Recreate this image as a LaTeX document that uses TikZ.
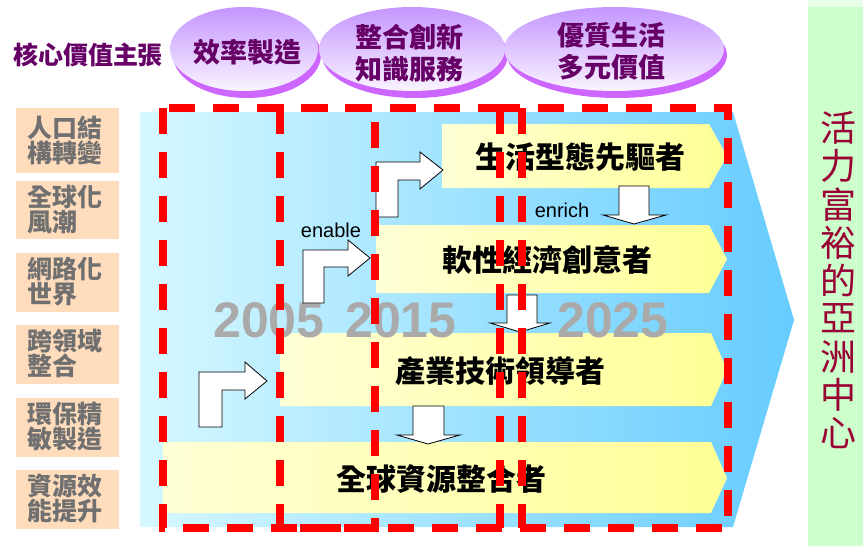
\documentclass[tikz,border=0pt]{standalone}
\usepackage{fontspec}
\setmainfont{Liberation Sans}
\newfontfamily\cjk{Noto Sans CJK TC}
\definecolor{purp}{RGB}{102,0,102}
\definecolor{ellTop}{RGB}{196,150,255}
\definecolor{ellBot}{RGB}{250,244,255}
\definecolor{ellShadow}{RGB}{204,102,255}
\definecolor{peach}{RGB}{255,220,188}
\definecolor{boxgray}{RGB}{112,112,112}
\definecolor{bgL}{RGB}{214,248,255}
\definecolor{bgR}{RGB}{102,204,255}
\definecolor{yelL}{RGB}{255,255,214}
\definecolor{yelR}{RGB}{255,255,150}
\definecolor{yeargray}{RGB}{170,170,170}
\definecolor{greenpanel}{RGB}{204,255,204}
\definecolor{greentop}{RGB}{232,255,232}
\definecolor{darkred}{RGB}{153,0,51}
\tikzset{
  fs/.style={font=\fontsize{#1}{#1}\selectfont},
  ellshape/.style={top color=ellTop, bottom color=ellBot, draw=none},
  ellshadow/.style={fill=ellShadow, draw=none},
  elltext/.style={text=purp, font=\cjk\bfseries\fontsize{27}{32}\selectfont, align=center, inner sep=0pt},
  sidebox/.style={fill=peach, draw=none},
  sidetext/.style={text=boxgray, font=\cjk\bfseries\fontsize{25}{23.5}\selectfont, align=left, anchor=north west, inner sep=0pt},
  banner/.style={left color=yelL, right color=yelR, draw=none},
  bannertext/.style={font=\cjk\bfseries\fontsize{30}{30}\selectfont, text=black, inner sep=0pt},
  blockarrow/.style={fill=white, draw=black, line width=0.8pt, line join=miter},
  yeartext/.style={text=yeargray, font=\bfseries\fontsize{50}{50}\selectfont, inner sep=0pt},
  smalltext/.style={font=\fontsize{20}{20}\selectfont, text=black, inner sep=0pt},
  reddash/.style={draw=red, line width=8pt, dash pattern=on 26pt off 18pt},
  vtext/.style={text=darkred, font=\cjk\fontsize{36}{36}\selectfont, inner sep=0pt}
}
\begin{document}
\begin{tikzpicture}[x=1pt,y=-1pt]
\useasboundingbox (0,0) rectangle (863,546);

% ---- background big arrow
\path[left color=bgL, right color=bgR] (140,112) -- (733,112) -- (794,320) -- (733,527) -- (140,527) -- cycle;

% ---- header
\node[text=purp, font=\cjk\bfseries\fontsize{25}{25}\selectfont, inner sep=0pt] (core) at (88,55) {核心價值主張};

\fill[ellshadow] (247,55) ellipse [x radius=74, y radius=43];
\path[ellshape] (244,49) ellipse [x radius=74, y radius=42];
\node[elltext] (e1) at (247,52) {效率製造};

\fill[ellshadow] (415,55) ellipse [x radius=93, y radius=43];
\path[ellshape] (412,49) ellipse [x radius=93, y radius=42];
\node[elltext] (e2) at (409,53) {整合創新\\知識服務};

\fill[ellshadow] (617,55) ellipse [x radius=110, y radius=43];
\path[ellshape] (614,49) ellipse [x radius=110, y radius=42];
\node[elltext] (e3) at (611,51) {優質生活\\多元價值};

% ---- left side boxes
\fill[sidebox] (16,108) rectangle (119,173);
\node[sidetext] (s1) at (27,116) {人口結\\構轉變};
\fill[sidebox] (16,181) rectangle (119,239);
\node[sidetext] (s2) at (27,185) {全球化\\風潮};
\fill[sidebox] (16,253) rectangle (119,312);
\node[sidetext] (s3) at (27,257) {網路化\\世界};
\fill[sidebox] (16,325) rectangle (119,384);
\node[sidetext] (s4) at (27,329) {跨領域\\整合};
\fill[sidebox] (16,398) rectangle (119,457);
\node[sidetext] (s5) at (27,402) {環保精\\敏製造};
\fill[sidebox] (16,470) rectangle (119,529);
\node[sidetext] (s6) at (27,474) {資源效\\能提升};

% ---- banners
\path[banner] (442,124) -- (709,124) -- (727,156) -- (709,188) -- (442,188) -- cycle;
\node[bannertext] (b1) at (580,157) {生活型態先驅者};
\path[banner] (376,225) -- (709,225) -- (727,259) -- (709,293) -- (376,293) -- cycle;
\node[bannertext] (b2) at (547,260) {軟性經濟創意者};
\path[banner] (280,333) -- (711,333) -- (727,370) -- (711,406) -- (280,406) -- cycle;
\node[bannertext] (b3) at (500,371) {產業技術領導者};
\path[banner] (163,442) -- (711,442) -- (727,478) -- (711,513) -- (163,513) -- cycle;
\node[bannertext] (b4) at (441,479) {全球資源整合者};

% ---- year labels
\node[yeartext] (y1) at (269,320) {2005};
\node[yeartext] (y2) at (401,320) {2015};
\node[yeartext] (y3) at (613,320) {2025};

% ---- bent arrows
\draw[blockarrow] (199,427) -- (199,372) -- (245,372) -- (245,362) -- (267,381) -- (245,399) -- (245,390) -- (222,390) -- (222,427) -- cycle;
\draw[blockarrow] (303,303) -- (303,250) -- (348,250) -- (348,240) -- (370,258) -- (348,276) -- (348,267) -- (324,267) -- (324,303) -- cycle;
\draw[blockarrow] (376,217) -- (376,162) -- (420,162) -- (420,152) -- (443,170) -- (420,189) -- (420,180) -- (398,180) -- (398,217) -- cycle;

% ---- down arrows
\draw[blockarrow] (619,186) -- (649,186) -- (649,215) -- (666,215) -- (634,224) -- (603,215) -- (619,215) -- cycle;
\draw[blockarrow] (507,295) -- (537,295) -- (537,323) -- (550,323) -- (520,332) -- (490,323) -- (507,323) -- cycle;
\draw[blockarrow] (413,406) -- (444,406) -- (444,435) -- (460,435) -- (428,444) -- (397,435) -- (413,435) -- cycle;

\node[smalltext] (en1) at (331,230) {enable};
\node[smalltext] (en2) at (562,210) {enrich};

% ---- red dashed frames
\draw[reddash] (163,108) rectangle (375,528);
\draw[reddash] (280,108) rectangle (522,528);
\draw[reddash] (500,108) rectangle (728,528);

% ---- right green panel
\fill[greentop] (808,0) rectangle (863,7);
\fill[greenpanel] (808,7) rectangle (863,546);
\foreach \ch [count=\i from 0] in {活,力,富,裕,的,亞,洲,中,心}{
  \node[vtext] (v\i) at (838,{128+38.1*\i}) {\ch};
}
\end{tikzpicture}
\end{document}
